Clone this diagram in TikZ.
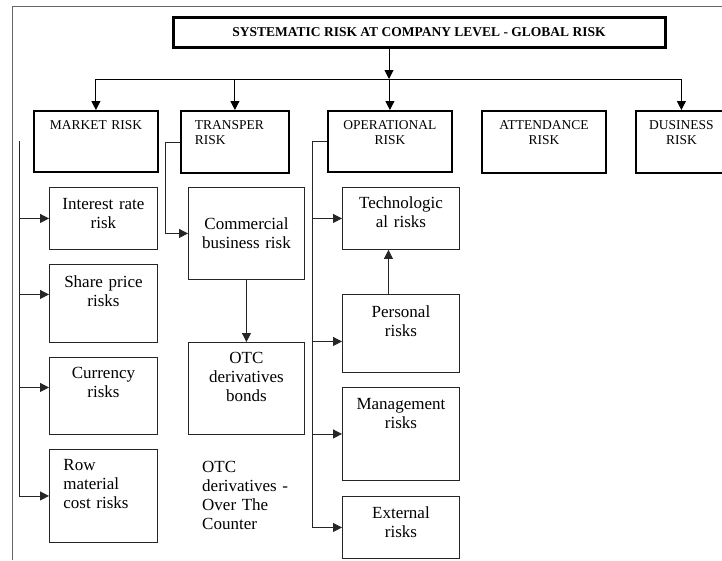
\documentclass[tikz,border=0pt]{standalone}
\usepackage{fontspec}
\setmainfont{Liberation Serif}
\usetikzlibrary{arrows.meta}
\newcommand{\toplbl}{\fontsize{13.5}{14.5}\selectfont}
\newcommand{\boxlbl}{\fontsize{17}{19}\selectfont}

\begin{document}
\begin{tikzpicture}[x=1pt,y=-1pt,
        titlebox/.style={draw,line width=3pt,minimum width=492pt,minimum height=30pt,inner sep=0pt,
                         font=\bfseries\fontsize{13.5}{16}\selectfont},
        mainbox/.style={draw,line width=1.8pt,anchor=north west,inner sep=0pt,align=center,
                        font=\toplbl,text height=19pt,text depth=43pt},
        subbox/.style={draw,line width=0.9pt,draw=black!85,anchor=north west,inner sep=0pt,align=center,font=\boxlbl},
        note/.style={anchor=base west,inner sep=0pt,align=left,text width=110pt,font=\boxlbl},
        frame/.style={black!60,line width=0.8pt},
        conn/.style={black!85,line width=0.8pt},
        arr/.style={conn,-{Triangle[length=9pt,width=9pt]}},
        toparr/.style={black,line width=1pt,-{Triangle[length=9pt,width=9pt]}}
    ]
    \fill[white] (0,0) rectangle (722,560);
    \useasboundingbox (0,0) rectangle (722,560);
    % Frame (only top and left edges visible)
    \draw[frame] (722,6) -- (12,6) -- (12,560);

    % Title
    \node[titlebox] (sys) at (419,32) {SYSTEMATIC RISK AT COMPANY LEVEL - GLOBAL RISK};

    % Top level risks
    \node[mainbox,text width=124pt,text depth=42pt] (mkt) at (33,110) {MARKET RISK};
    \node[mainbox,align=left,inner xsep=14pt,text width=80pt] (trans) at (180,110) {TRANSPER\\RISK};
    \node[mainbox,text width=124pt,text depth=42pt] (oper) at (327,110) {OPERATIONAL\\RISK};
    \node[mainbox,text width=124pt] (att) at (481,110) {ATTENDANCE\\RISK};
    \node[mainbox,text width=91pt] (bus) at (635,110) {DUSINESS\\RISK};

    % Market risks
    \node[subbox,text width=108pt,text height=22pt,text depth=40pt] (intr) at (49,187) {Interest rate\\risk};
    \node[subbox,text width=108pt,text height=23pt,text depth=55pt] (share) at (49,264) {Share price\\risks};
    \node[subbox,text width=108pt,text height=21pt,text depth=56pt] (curr) at (49,357) {Currency\\risks};
    \node[subbox,align=left,inner xsep=14pt,text width=80pt,text height=21pt,text depth=72pt] (row) at (49,449) {Row\\material\\cost risks};

    % Transfer risks
    \node[subbox,text width=116pt,text height=42pt,text depth=50pt] (comm) at (188,187) {Commercial\\business risk};
    \node[subbox,text width=116pt,text height=21pt,text depth=71pt] (otc) at (188,342) {OTC\\derivatives\\bonds};
    \node[note] (otcnote) at (202,472) {OTC\\derivatives -\\Over The\\Counter};

    % Operational risks
    \node[subbox,text width=117pt,text height=21pt,text depth=41pt] (tech) at (342,187) {Technologic\\al risks};
    \node[subbox,text width=117pt,text height=23pt,text depth=55pt] (pers) at (342,294) {Personal\\risks};
    \node[subbox,text width=117pt,text height=22pt,text depth=71pt] (mgmt) at (342,387) {Management\\risks};
    \node[subbox,text width=117pt,text height=22pt,text depth=40pt] (ext) at (342,496) {External\\risks};

    % Title to top level
    \coordinate (hub) at (389,79);
    \draw[toparr] (sys.south -| hub) -- (hub);
    \draw[line width=1pt] (mkt.north |- hub) -- (bus.north |- hub);
    \foreach \b in {mkt,trans,oper,bus} {
        \draw[toparr] (\b.north |- hub) -- (\b.north);
    }

    % Market links
    \coordinate (mk) at (19,141);
    \coordinate (sh-in) at ([yshift=9pt]share.west);
    \coordinate (cu-in) at ([yshift=8.5pt]curr.west);
    \draw[conn] (mk) -- (mk |- row.west);
    \foreach \t in {intr.west,sh-in,cu-in,row.west} {
        \draw[arr] (mk |- \t) -- (\t);
    }

    % Transfer links
    \draw[arr] (trans.west) -- ++(-15,0) |- (comm.west);
    \draw[arr] (comm.south) -- (otc.north);

    % Operational links
    \coordinate (pe-in) at ([yshift=-8pt]pers.west);
    \draw[conn] (oper.west) -- ++(-15,0) coordinate (op) -- (op |- ext.west);
    \foreach \t in {tech.west,pe-in,mgmt.west,ext.west} {
        \draw[arr] (op |- \t) -- (\t);
    }
    \draw[arr] ([xshift=-12.5pt]pers.north) -- ([xshift=-12.5pt]tech.south);
\end{tikzpicture}
\end{document}
